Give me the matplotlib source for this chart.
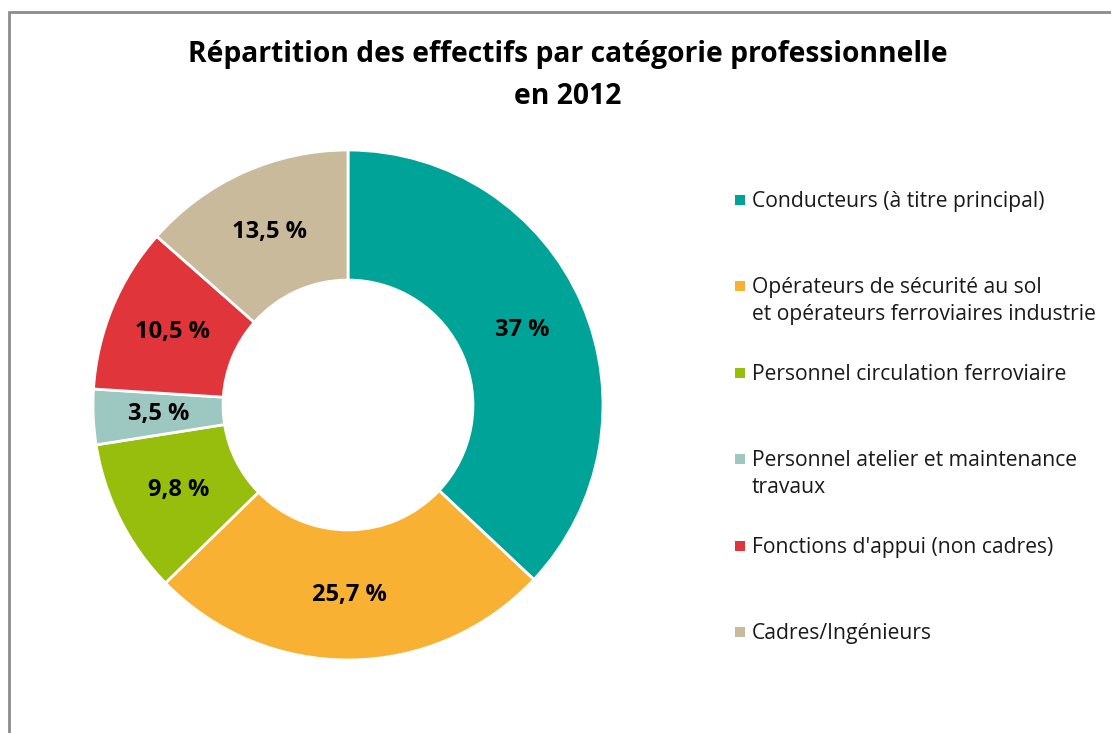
import numpy as np
import matplotlib.pyplot as plt
from matplotlib.patches import Rectangle

plt.rcParams['font.family'] = ['Open Sans', 'DejaVu Sans']

# data
categories = ['Conducteurs (à titre principal)',
              'Opérateurs de sécurité au sol\net opérateurs ferroviaires industrie',
              'Personnel circulation ferroviaire',
              'Personnel atelier et maintenance\ntravaux',
              "Fonctions d'appui (non cadres)",
              'Cadres/Ingénieurs']
values = [37, 25.7, 9.8, 3.5, 10.5, 13.5]
pct_labels = ['37 %', '25,7 %', '9,8 %', '3,5 %', '10,5 %', '13,5 %']
colors = ['#00A398', '#F8B133', '#97BE0D', '#9DC7C1', '#E0353B', '#C8BA9A']

fig = plt.figure(figsize=(11.11, 7.33), dpi=100)

# frame around the chart (cut at right and bottom like the source)
fig.patches.append(Rectangle((9 / 1111, -0.05), 1.2, 1 - 12 / 733 + 0.05,
                             transform=fig.transFigure, fill=False,
                             edgecolor='#8c8c8c', linewidth=2))

fig.text(0.511, 0.926, 'Répartition des effectifs par catégorie professionnelle',
         ha='center', va='center', fontsize=20.3, fontweight='bold')
fig.text(0.511, 0.868, 'en 2012', ha='center', va='center', fontsize=20.3, fontweight='bold')

ax = fig.add_axes([(348 - 255) / 1111, (328 - 255) / 733, 510 / 1111, 510 / 733])
wedges, texts = ax.pie(values, colors=colors, startangle=90, counterclock=False,
                       radius=1, wedgeprops=dict(width=0.51, edgecolor='white', linewidth=2))
for w, lab in zip(wedges, pct_labels):
    ang = np.deg2rad((w.theta1 + w.theta2) / 2)
    ax.text(0.745 * np.cos(ang), 0.745 * np.sin(ang), lab, ha='center', va='center',
            fontsize=17, fontweight='bold')
ax.set_xlim(-1, 1)
ax.set_ylim(-1, 1)
ax.set_aspect('equal')
ax.axis('off')

# legend, laid out by hand
leg_y = [200, 286, 373, 459, 546, 632]
for cat, col, y in zip(categories, colors, leg_y):
    fig.patches.append(Rectangle((735 / 1111, 1 - (y + 5) / 733), 10 / 1111, 10 / 733,
                                 transform=fig.transFigure, facecolor=col, edgecolor='none'))
    fig.text(752 / 1111, 1 - (y - 9) / 733, cat, ha='left', va='top', fontsize=15.2,
             linespacing=1.35, color='#1a1a1a')

fig.savefig('out.png', dpi=100)
